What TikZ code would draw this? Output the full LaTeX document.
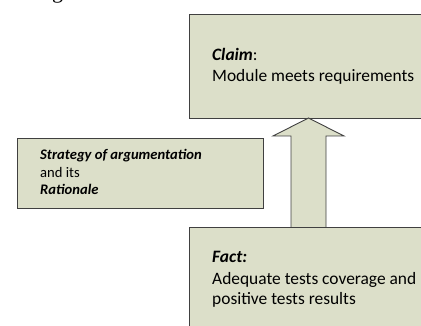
\documentclass[tikz,border=0pt]{standalone}
\usepackage{fontspec}
\setmainfont{Carlito}
\newfontfamily\serifg{Liberation Serif}
\definecolor{boxfill}{HTML}{DCDFC9}
\definecolor{boxline}{HTML}{404040}
\tikzset{
  x=1pt, y=-1pt,
  panel/.style={draw=boxline, fill=boxfill, line width=0.9pt, rectangle, inner sep=0pt, anchor=north west},
  bigtxt/.style={anchor=base west, inner sep=0pt, font=\fontsize{17.4}{21}\selectfont},
  smalltxt/.style={anchor=base west, inner sep=0pt, font=\fontsize{14.6}{17.7}\selectfont},
  bigarrow/.style={draw=boxline, fill=boxfill, line width=0.9pt, line join=miter}
}
\begin{document}
\begin{tikzpicture}
\useasboundingbox (0,0) rectangle (421,326);
% fragment of text above the picture
\node[anchor=base west, inner sep=0pt, font=\serifg\fontsize{22}{26}\selectfont] (frag) at (52,-1) {g};
% boxes
\node[panel, minimum width=260pt, minimum height=104pt] (claim) at (189,14) {};
\node[panel, minimum width=246pt, minimum height=70pt] (strat) at (17,138) {};
\node[panel, minimum width=260pt, minimum height=120pt] (fact) at (189,227) {};
% arrow from fact to claim
\coordinate (tip) at (308.5,118);
\draw[bigarrow] (291,227) -- (291,136) -- (273,136) -- (tip) -- (344,136) -- (326,136) -- (326,227);
% texts
\node[bigtxt] (claimA) at (212,61) {\textbf{\textit{Claim}}:};
\node[bigtxt] (claimB) at (212,82) {Module meets requirements};
\node[smalltxt] (stratA) at (40,160) {\textbf{\textit{Strategy of argumentation}}};
\node[smalltxt] (stratB) at (40,177.5) {and its};
\node[smalltxt] (stratC) at (40,195) {\textbf{\textit{Rationale}}};
\node[bigtxt] (factA) at (212,263) {\textbf{\textit{Fact:}}};
\node[bigtxt] (factB) at (212,284) {Adequate tests coverage and};
\node[bigtxt] (factC) at (212,305) {positive tests results};
\end{tikzpicture}
\end{document}
